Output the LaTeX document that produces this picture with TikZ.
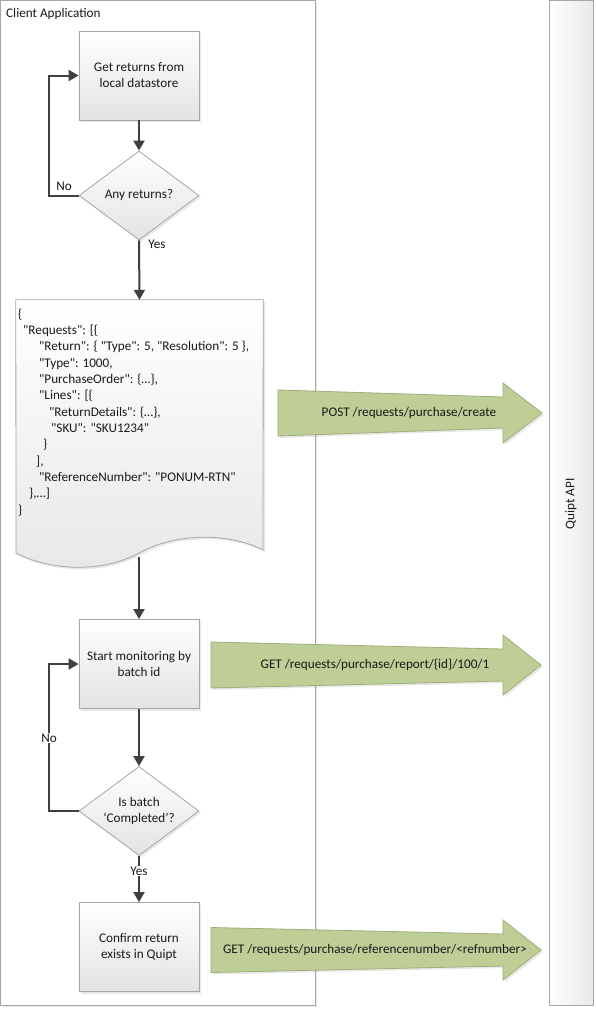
\documentclass[tikz,border=0pt]{standalone}
\usepackage{fontspec}
\setmainfont{Carlito}[Ligatures=TeXOff]
\usetikzlibrary{arrows.meta,shapes.geometric,shadows}
\definecolor{lanegray}{HTML}{A6A6A6}
\definecolor{conncol}{HTML}{404040}
\definecolor{arrgreen}{HTML}{BFCD96}
\definecolor{arrborder}{HTML}{9FAE78}
\definecolor{txtcol}{HTML}{1A1A1A}
\begin{document}
\begin{tikzpicture}[x=1pt,y=-1pt,
  font=\fontsize{13.2}{16}\selectfont, text=txtcol,
  lane/.style={draw=lanegray, line width=1pt},
  softshadow/.style={drop shadow={opacity=0.18, shadow xshift=2pt, shadow yshift=-2pt}},
  stepbox/.style={rectangle, draw=lanegray, line width=0.8pt, top color=white, bottom color=black!11,
    minimum width=120pt, minimum height=89pt, inner sep=0pt, align=center, softshadow},
  decision/.style={diamond, aspect=1.35, draw=lanegray, line width=0.8pt, top color=white, bottom color=black!11,
    minimum width=120pt, minimum height=89pt, inner sep=0pt, align=center, softshadow},
  conn/.style={draw=conncol, line width=2pt, -{Triangle[length=10pt,width=11pt]}},
  lbl/.style={inner sep=1pt},
  bigarrow/.style={fill=arrgreen, draw=arrborder, line width=0.8pt, line join=miter, softshadow},
]
\useasboundingbox (0,0) rectangle (596,1009);
\fill[white] (0,0) rectangle (596,1009);

% lanes
\draw[lane, softshadow, fill=white] (0.5,0.5) rectangle (315,1005);
\node[anchor=west, inner sep=0pt] (client) at (6,14) {Client Application};
\draw[lane, left color=white, right color=black!9] (549,0.5) rectangle (593,1005);
\node[rotate=90] (quipt) at (571,504) {Quipt API};

% flow nodes
\node[stepbox] (get) at (139,75.5) {Get returns from\\local datastore};
\node[decision] (any) at (139,195.5) {Any returns?};

% document
\node[minimum width=247pt, minimum height=250pt, inner sep=0pt] (doc) at (139.5,425) {};
\draw[draw=lanegray, line width=0.8pt, top color=white, bottom color=black!9, softshadow]
  (doc.north west) -- (doc.north east) -- (263,550)
  .. controls (228,532) and (175,533) .. (139,553)
  .. controls (103,573) and (50,571) .. (16,553) -- cycle;
\coordinate (docb) at (139,557);
\node[anchor=north west, inner sep=0pt, align=left, font=\fontsize{13.2}{16.33}\selectfont] (json) at (18,308.5) {%
\{\\
\hspace*{5pt}"Requests": [\{\\
\hspace*{21pt}"Return": \{ "Type": 5, "Resolution": 5 \},\\
\hspace*{21pt}"Type": 1000,\\
\hspace*{21pt}"PurchaseOrder": \{…\},\\
\hspace*{21pt}"Lines": [\{\\
\hspace*{31pt}"ReturnDetails": \{…\},\\
\hspace*{33pt}"SKU": "SKU1234"\\
\hspace*{25pt}\}\\
\hspace*{18pt}],\\
\hspace*{21pt}"ReferenceNumber": "PONUM-RTN"\\
\hspace*{11pt}\},…]\\
\}};

\node[stepbox] (mon) at (139,664) {Start monitoring by\\batch id};
\node[decision] (done) at (139,811) {Is batch\\‘Completed’?};
\node[stepbox] (conf) at (139,947) {Confirm return\\exists in Quipt};

% connectors
\draw[conn] (get.south) -- (any.north);
\draw[conn] (any.west) -- ++(-30,0) |- (get.west);
\node[lbl] (no1) at (64,186) {No};
\draw[conn] (any.south) -- (doc.north);
\node[lbl] (yes1) at (157,244) {Yes};
\draw[conn] (docb) -- (mon.north);
\draw[conn] (mon.south) -- (done.north);
\draw[conn] (done.west) -- ++(-30,0) |- (mon.west);
\node[lbl, fill=white] (no2) at (49,738) {No};
\draw[conn] (done.south) -- (conf.north);
\node[lbl, fill=white] (yes2) at (139,871) {Yes};

% API call arrows
\draw[bigarrow] (278,390) -- (503,397) -- (503,383) -- (542,413) -- (503,443) -- (503,428) -- (278,436) -- cycle;
\node (post) at (409,413) {POST /requests/purchase/create};
\draw[bigarrow] (211,642) -- (503,649) -- (503,635) -- (541,665) -- (503,695) -- (503,681) -- (211,688) -- cycle;
\node (report) at (375,665) {GET /requests/purchase/report/\{id\}/100/1};
\draw[bigarrow] (211,927.5) -- (503,934) -- (503,920) -- (541,950) -- (503,980) -- (503,966) -- (211,972.5) -- cycle;
\node (refnum) at (375,950) {GET /requests/purchase/referencenumber/<refnumber>};
\end{tikzpicture}
\end{document}
